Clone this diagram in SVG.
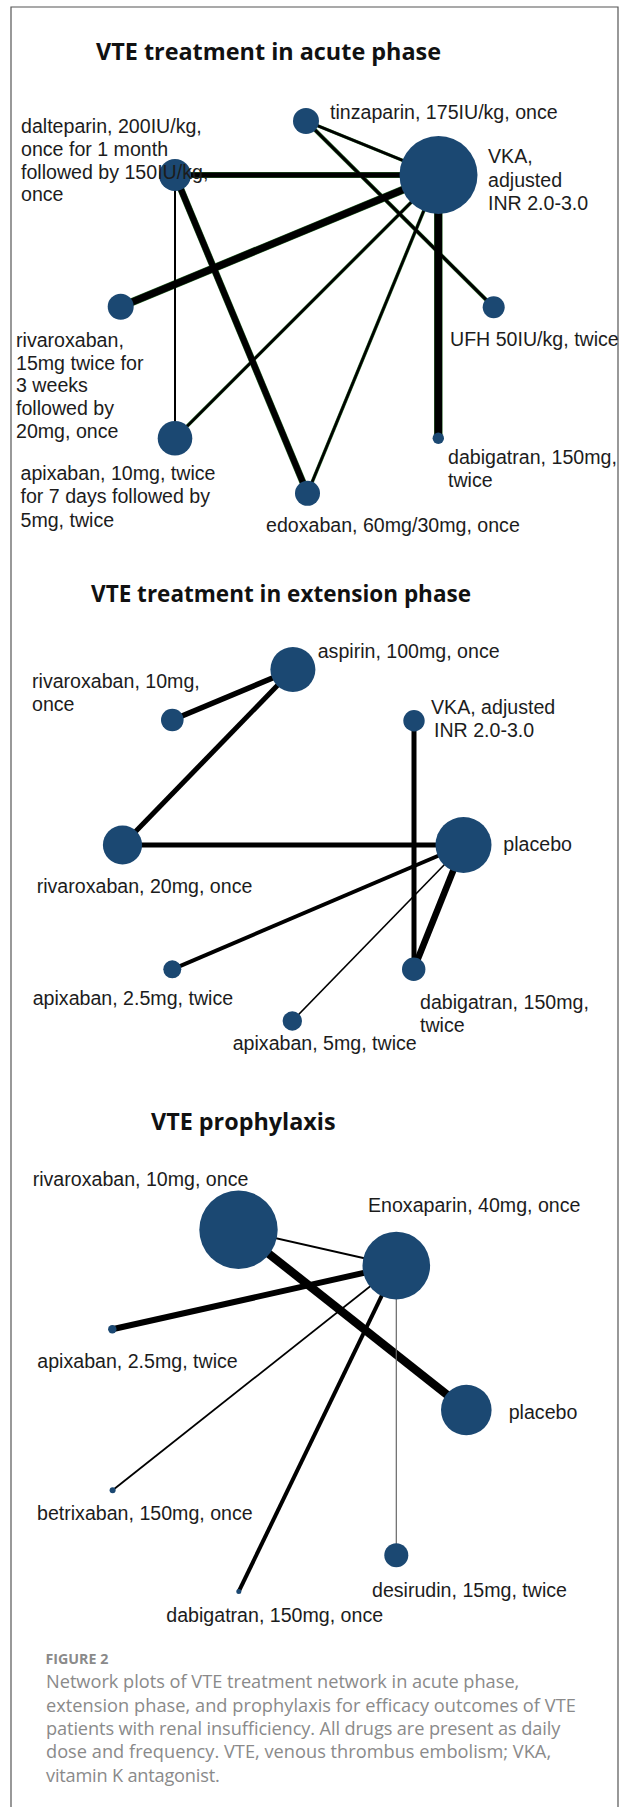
<svg xmlns="http://www.w3.org/2000/svg" width="624" height="1807" viewBox="0 0 624 1807">
<style>
.title{font-family:"Open Sans","Noto Sans",sans-serif;font-weight:bold;font-size:24px;fill:#111}
.lbl{font-family:"Liberation Sans",Arial,sans-serif;font-size:19.6px;fill:#1c1c1c}
.cap{font-family:"Open Sans","Noto Sans",sans-serif;font-size:18.2px;fill:#8a8a8a}
.caph{font-family:"Open Sans","Noto Sans",sans-serif;font-size:14px;font-weight:bold;fill:#8a8a8a}
.node{fill:#1b4872}
.e{stroke:#000;fill:none;stroke-linecap:butt}
.g{stroke:#2f6e2f;fill:none}
</style>
<rect width="624" height="1807" fill="#fff"/>
<path d="M11,1807 V7 H618 V1807" fill="none" stroke="#555" stroke-width="1.2"/>

<text class="title" x="96" y="60" textLength="345" lengthAdjust="spacingAndGlyphs">VTE treatment in acute phase</text>
<text class="title" x="91" y="601.5" textLength="380" lengthAdjust="spacingAndGlyphs">VTE treatment in extension phase</text>
<text class="title" x="151" y="1130" textLength="184.5" lengthAdjust="spacingAndGlyphs">VTE prophylaxis</text>

<g id="connectors">
  <!-- acute phase: green antialias halo -->
  <g class="g">
    <line x1="175" y1="175" x2="438.5" y2="175" stroke-width="6"/>
    <line x1="175" y1="175" x2="307.5" y2="493.3" stroke-width="7"/>
    <line x1="120.7" y1="306.7" x2="438.5" y2="175" stroke-width="8"/>
    <line x1="306" y1="121" x2="438.5" y2="175" stroke-width="3.5"/>
    <line x1="306" y1="121" x2="493.7" y2="307.3" stroke-width="4"/>
    <line x1="438.5" y1="175" x2="175" y2="438.3" stroke-width="3.5"/>
    <line x1="438.5" y1="175" x2="307.5" y2="493.3" stroke-width="3.5"/>
    <line x1="438.3" y1="175" x2="438.3" y2="438.3" stroke-width="8.5"/>
  </g>
  <line class="e" x1="175" y1="175" x2="438.5" y2="175" stroke-width="5"/>
  <line class="e" x1="175" y1="175" x2="175" y2="438.3" stroke-width="2"/>
  <line class="e" x1="175" y1="175" x2="307.5" y2="493.3" stroke-width="6"/>
  <line class="e" x1="120.7" y1="306.7" x2="438.5" y2="175" stroke-width="7"/>
  <line class="e" x1="306" y1="121" x2="438.5" y2="175" stroke-width="2.5"/>
  <line class="e" x1="306" y1="121" x2="493.7" y2="307.3" stroke-width="3"/>
  <line class="e" x1="438.5" y1="175" x2="175" y2="438.3" stroke-width="2.5"/>
  <line class="e" x1="438.5" y1="175" x2="307.5" y2="493.3" stroke-width="2.5"/>
  <line class="e" x1="438.3" y1="175" x2="438.3" y2="438.3" stroke-width="7.5"/>

  <!-- extension phase -->
  <line class="e" x1="172.3" y1="720" x2="292.9" y2="669.5" stroke-width="5.5"/>
  <line class="e" x1="122.5" y1="845" x2="292.9" y2="669.5" stroke-width="5"/>
  <line class="e" x1="122.5" y1="845" x2="463.5" y2="845" stroke-width="5"/>
  <line class="e" x1="414" y1="720.7" x2="414" y2="969.3" stroke-width="5"/>
  <line class="e" x1="463.5" y1="845" x2="172.3" y2="969.3" stroke-width="4"/>
  <line class="e" x1="463.5" y1="845" x2="292.3" y2="1021" stroke-width="1.6"/>
  <line class="e" x1="463.5" y1="845" x2="413.7" y2="969.3" stroke-width="6.5"/>

  <!-- prophylaxis -->
  <line class="e" x1="238.5" y1="1229.8" x2="396.3" y2="1265.6" stroke-width="2"/>
  <line class="e" x1="238.5" y1="1229.8" x2="466.3" y2="1410" stroke-width="8.5"/>
  <line class="e" x1="396.3" y1="1265.6" x2="112.3" y2="1329.3" stroke-width="6"/>
  <line class="e" x1="396.3" y1="1265.6" x2="112.6" y2="1490.3" stroke-width="1.8"/>
  <line class="e" x1="396.3" y1="1265.6" x2="238.8" y2="1591.4" stroke-width="4"/>
  <line x1="396.3" y1="1265.6" x2="396.3" y2="1555.2" stroke="#666" stroke-width="1.2"/>
</g>

<!-- acute phase nodes -->
<g id="a_tinzaparin"><circle class="node" cx="306" cy="121" r="13"/><text class="lbl" x="330" y="119">tinzaparin, 175IU/kg, once</text></g>
<g id="a_vka"><circle class="node" cx="438.5" cy="175" r="39"/><text class="lbl" x="488" y="163">VKA,</text><text class="lbl" x="488" y="186.5">adjusted</text><text class="lbl" x="488" y="210">INR 2.0-3.0</text></g>
<g id="a_dalteparin"><circle class="node" cx="175" cy="175" r="16"/><text class="lbl" x="21" y="133">dalteparin, 200IU/kg,</text><text class="lbl" x="21" y="156">once for 1 month</text><text class="lbl" x="21" y="178.5">followed by 150IU/kg,</text><text class="lbl" x="21" y="201">once</text></g>
<g id="a_rivaroxaban"><circle class="node" cx="120.7" cy="306.7" r="13"/><text class="lbl" x="16" y="346.5">rivaroxaban,</text><text class="lbl" x="16" y="369.5">15mg twice for</text><text class="lbl" x="16" y="392">3 weeks</text><text class="lbl" x="16" y="414.5">followed by</text><text class="lbl" x="16" y="437.5">20mg, once</text></g>
<g id="a_ufh"><circle class="node" cx="493.7" cy="307.3" r="11"/><text class="lbl" x="450" y="346">UFH 50IU/kg, twice</text></g>
<g id="a_apixaban"><circle class="node" cx="175" cy="438.3" r="17.3"/><text class="lbl" x="20.5" y="480">apixaban, 10mg, twice</text><text class="lbl" x="20.5" y="503.3">for 7 days followed by</text><text class="lbl" x="20.5" y="526.7">5mg, twice</text></g>
<g id="a_edoxaban"><circle class="node" cx="307.5" cy="493.3" r="12.5"/><text class="lbl" x="266" y="531.7">edoxaban, 60mg/30mg, once</text></g>
<g id="a_dabigatran"><circle class="node" cx="438.3" cy="438.3" r="5.7"/><text class="lbl" x="448" y="464">dabigatran, 150mg,</text><text class="lbl" x="448" y="486.7">twice</text></g>

<!-- extension phase nodes -->
<g id="e_aspirin"><circle class="node" cx="292.9" cy="669.5" r="22.5"/><text class="lbl" x="317.7" y="658.3">aspirin, 100mg, once</text></g>
<g id="e_rivaroxaban10"><circle class="node" cx="172.3" cy="720" r="11.3"/><text class="lbl" x="32" y="688">rivaroxaban, 10mg,</text><text class="lbl" x="32" y="711">once</text></g>
<g id="e_vka"><circle class="node" cx="414" cy="720.7" r="10.7"/><text class="lbl" x="431" y="714">VKA, adjusted</text><text class="lbl" x="434" y="736.5">INR 2.0-3.0</text></g>
<g id="e_rivaroxaban20"><circle class="node" cx="122.5" cy="845" r="19.6"/><text class="lbl" x="36.7" y="892.7">rivaroxaban, 20mg, once</text></g>
<g id="e_placebo"><circle class="node" cx="463.5" cy="845" r="28"/><text class="lbl" x="503.3" y="851">placebo</text></g>
<g id="e_apixaban25"><circle class="node" cx="172.3" cy="969.3" r="9"/><text class="lbl" x="32.7" y="1005">apixaban, 2.5mg, twice</text></g>
<g id="e_dabigatran"><circle class="node" cx="413.7" cy="969.3" r="11.7"/><text class="lbl" x="420" y="1009">dabigatran, 150mg,</text><text class="lbl" x="420" y="1031.7">twice</text></g>
<g id="e_apixaban5"><circle class="node" cx="292.3" cy="1021" r="9.7"/><text class="lbl" x="232.7" y="1050">apixaban, 5mg, twice</text></g>

<!-- prophylaxis nodes -->
<g id="p_rivaroxaban"><circle class="node" cx="238.5" cy="1229.8" r="39.2"/><text class="lbl" x="32.7" y="1186">rivaroxaban, 10mg, once</text></g>
<g id="p_enoxaparin"><circle class="node" cx="396.3" cy="1265.6" r="33.8"/><text class="lbl" x="368" y="1211.7">Enoxaparin, 40mg, once</text></g>
<g id="p_apixaban"><circle class="node" cx="112.3" cy="1329.3" r="4.2"/><text class="lbl" x="37.3" y="1368">apixaban, 2.5mg, twice</text></g>
<g id="p_placebo"><circle class="node" cx="466.3" cy="1410" r="25.3"/><text class="lbl" x="508.7" y="1419">placebo</text></g>
<g id="p_betrixaban"><circle class="node" cx="112.6" cy="1490.3" r="3"/><text class="lbl" x="37" y="1520.4">betrixaban, 150mg, once</text></g>
<g id="p_desirudin"><circle class="node" cx="396.3" cy="1555.2" r="12"/><text class="lbl" x="372" y="1597">desirudin, 15mg, twice</text></g>
<g id="p_dabigatran"><circle class="node" cx="238.8" cy="1591.4" r="2.5"/><text class="lbl" x="166.3" y="1621.5">dabigatran, 150mg, once</text></g>

<g id="caption">
  <text class="caph" x="45.5" y="1664" textLength="62.8" lengthAdjust="spacingAndGlyphs">FIGURE 2</text>
  <text class="cap" x="46" y="1688.3" textLength="473.3" lengthAdjust="spacing">Network plots of VTE treatment network in acute phase,</text>
  <text class="cap" x="46" y="1711.7" textLength="529.8" lengthAdjust="spacing">extension phase, and prophylaxis for efficacy outcomes of VTE</text>
  <text class="cap" x="46" y="1735" textLength="514.3" lengthAdjust="spacing">patients with renal insufficiency. All drugs are present as daily</text>
  <text class="cap" x="46" y="1758.3" textLength="505.1" lengthAdjust="spacing">dose and frequency. VTE, venous thrombus embolism; VKA,</text>
  <text class="cap" x="46" y="1781.7" textLength="173.7" lengthAdjust="spacing">vitamin K antagonist.</text>
</g>
</svg>
